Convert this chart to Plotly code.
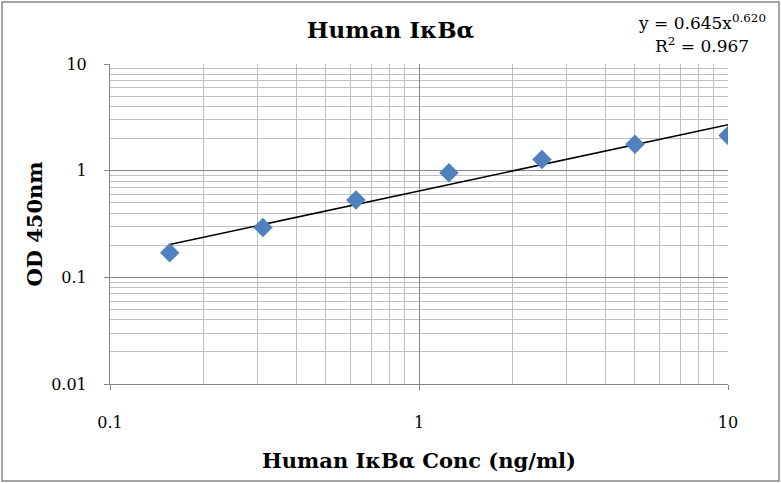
import numpy as np
import plotly.graph_objects as go

# Data
conc = [0.156, 0.3125, 0.625, 1.25, 2.5, 5, 10]
od450 = [0.170, 0.294, 0.530, 0.955, 1.276, 1.764, 2.142]
x_tick_vals = [0.1, 1, 10]
x_tick_text = ["0.1", "1", "10"]
y_tick_vals = [0.01, 0.1, 1, 10]
y_tick_text = ["0.01", "0.1", "1", "10"]
eq_text = "y = 0.645x<sup>0.620</sup>"
r2_text = "R<sup>2</sup> = 0.967"

# Power trendline fitted in log space
b, a = np.polyfit(np.log10(conc), np.log10(od450), 1)
x_line = np.logspace(np.log10(min(conc)), np.log10(max(conc)), 50)
y_line = 10 ** a * x_line ** b

W, H = 781, 483
L, R, T, B = 110, 53, 64, 99
pw, ph = W - L - R, H - T - B

FONT = "DejaVu Serif"

fig = go.Figure()
fig.add_trace(go.Scatter(x=x_line, y=y_line, mode="lines",
                         line=dict(color="black", width=1.6), showlegend=False,
                         hoverinfo="skip"))
fig.add_trace(go.Scatter(x=conc, y=od450, mode="markers",
                         marker=dict(symbol="diamond", size=15, color="#4F81BD",
                                     line=dict(width=0)),
                         showlegend=False))

axis_common = dict(
    type="log", showline=True, linecolor="#868686", linewidth=1,
    gridcolor="#868686", gridwidth=1, zeroline=False,
    ticks="outside", ticklen=5, tickcolor="#868686",
    tickfont=dict(family=FONT, size=16, color="black"),
    minor=dict(dtick="D1", showgrid=True, gridcolor="#BFBFBF", gridwidth=1, ticks=""),
)
fig.update_xaxes(**axis_common, range=[-1, 1], tickvals=x_tick_vals, ticktext=x_tick_text,
                 ticklabelstandoff=19,
                 title=dict(text="<b>Human IκBα Conc (ng/ml)</b>",
                            font=dict(family=FONT, size=21, color="black"), standoff=22))
fig.update_yaxes(**axis_common, range=[-2, 1], tickvals=y_tick_vals, ticktext=y_tick_text,
                 ticklabelstandoff=14,
                 title=dict(text="<b>OD 450nm</b>",
                            font=dict(family=FONT, size=21, color="black"), standoff=2))

fig.update_layout(
    width=W, height=H, margin=dict(l=L, r=R, t=T, b=B),
    paper_bgcolor="white", plot_bgcolor="white",
    title=dict(text="<b>Human IκBα</b>", x=0.5, xanchor="center", y=1 - 30 / H,
               yanchor="middle", font=dict(family=FONT, size=23, color="black")),
    shapes=[dict(type="rect", xref="paper", yref="paper",
                 x0=-(L - 2) / pw, x1=1 + (R - 2) / pw,
                 y0=-(B - 2) / ph, y1=1 + (T - 2) / ph,
                 line=dict(color="#868686", width=1.5))],
    annotations=[
        dict(text=eq_text, xref="paper", yref="paper", x=(702 - L) / pw, y=1 + (T - 22) / ph,
             xanchor="center", yanchor="middle", showarrow=False,
             font=dict(family=FONT, size=17, color="black")),
        dict(text=r2_text, xref="paper", yref="paper", x=(702 - L) / pw, y=1 + (T - 45) / ph,
             xanchor="center", yanchor="middle", showarrow=False,
             font=dict(family=FONT, size=17, color="black")),
    ],
)
fig.write_html("out.html", config={"displayModeBar": False},
               post_script="document.body.style.margin='0';")
